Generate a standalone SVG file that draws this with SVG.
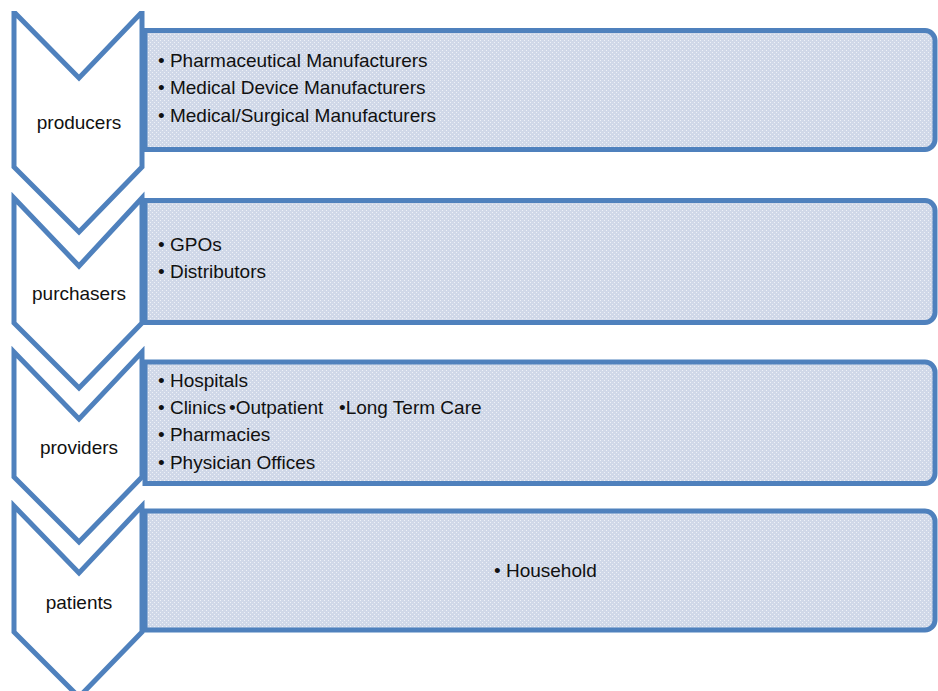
<svg xmlns="http://www.w3.org/2000/svg" width="938" height="691" viewBox="0 0 938 691">
<defs>
<pattern id="dots" width="4" height="4" patternUnits="userSpaceOnUse">
<rect width="4" height="4" fill="#d0d8e8"/>
<rect x="0" y="0" width="1" height="1" fill="#eef1f7"/>
<rect x="2" y="2" width="1" height="1" fill="#eef1f7"/>
</pattern>
<clipPath id="topclip"><rect x="0" y="11" width="938" height="680"/></clipPath>
<style>
.chev{fill:#ffffff;stroke:#4f81bd;stroke-width:5;stroke-linejoin:miter}
.box{fill:url(#dots);stroke:#4f81bd;stroke-width:5}
.lbl{font-family:"Liberation Sans",Arial,sans-serif;font-size:19px;fill:#111;text-anchor:middle}
.itm{font-family:"Liberation Sans",Arial,sans-serif;font-size:19px;fill:#111}
</style>
</defs>
<rect width="938" height="691" fill="#ffffff"/>
<g id="producers">
<path class="box" d="M145,30.5 H925 A10,10 0 0 1 935,40.5 V139.5 A10,10 0 0 1 925,149.5 H145 Z"/>
<path class="chev" clip-path="url(#topclip)" d="M14,12 L79,78 L142,12 L142,167 L79,232 L14,167 Z"/>
<text class="lbl" x="79" y="129">producers</text>
<text class="itm" x="158" y="67">• Pharmaceutical Manufacturers</text>
<text class="itm" x="158" y="94">• Medical Device Manufacturers</text>
<text class="itm" x="158" y="122">• Medical/Surgical Manufacturers</text>
</g>
<g id="purchasers">
<path class="box" d="M145,200.5 H925 A10,10 0 0 1 935,210.5 V312.5 A10,10 0 0 1 925,322.5 H145 Z"/>
<path class="chev" d="M14,198 L79,266 L142,198 L142,323 L79,388 L14,323 Z"/>
<text class="lbl" x="79" y="300">purchasers</text>
<text class="itm" x="158" y="251">• GPOs</text>
<text class="itm" x="158" y="278">• Distributors</text>
</g>
<g id="providers">
<path class="box" d="M145,362 H925 A10,10 0 0 1 935,372 V473.5 A10,10 0 0 1 925,483.5 H145 Z"/>
<path class="chev" d="M14,352 L79,419 L142,352 L142,477 L79,542 L14,477 Z"/>
<text class="lbl" x="79" y="454">providers</text>
<text class="itm" x="158" y="387">• Hospitals</text>
<text class="itm" y="414"><tspan x="158">• Clinics</tspan><tspan x="229">•Outpatient</tspan><tspan x="339">•Long Term Care</tspan></text>
<text class="itm" x="158" y="441">• Pharmacies</text>
<text class="itm" x="158" y="469">• Physician Offices</text>
</g>
<g id="patients">
<path class="box" d="M145,511 H925 A10,10 0 0 1 935,521 V620 A10,10 0 0 1 925,630 H145 Z"/>
<path class="chev" d="M14,506 L79,573 L142,506 L142,632 L79,697 L14,632 Z"/>
<text class="lbl" x="79" y="609">patients</text>
<text class="itm" x="494" y="577">• Household</text>
</g>
<g id="connectors"></g>
</svg>
